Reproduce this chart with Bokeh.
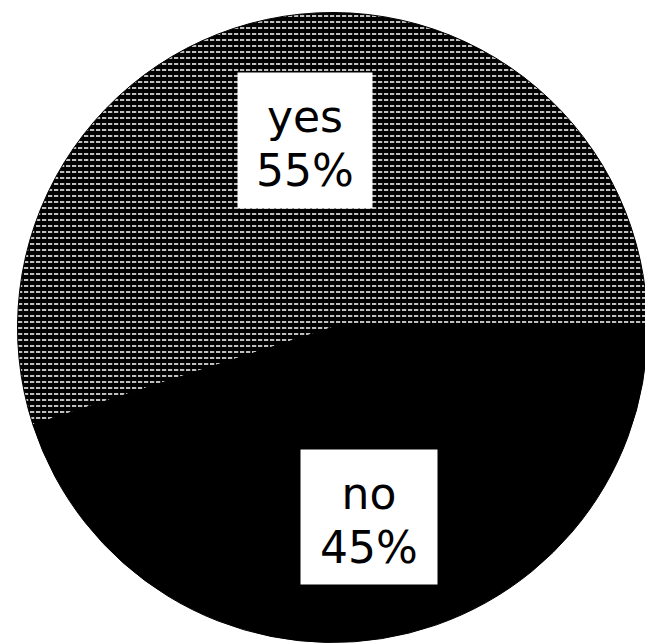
import math
from bokeh.plotting import figure
from bokeh.models import Range1d, ColumnDataSource
from bokeh.core.properties import value
from bokeh.embed import file_html
from bokeh.resources import INLINE

# data
categories = ["yes", "no"]
shares = [55, 45]

W, H = 645, 643
cx, cy, r = 332, H - 327, 315

total = sum(shares)
starts, ends = [], []
acc = 0.0
for s in shares:
    starts.append(2 * math.pi * acc / total)
    acc += s
    ends.append(2 * math.pi * acc / total)

p = figure(width=W, height=H, output_backend="svg", toolbar_location=None,
           x_range=Range1d(0, W), y_range=Range1d(0, H), min_border=0)
p.axis.visible = False
p.grid.visible = False
p.outline_line_color = None
p.background_fill_color = "white"
p.border_fill_color = "white"

src = ColumnDataSource(dict(cat=categories, start=starts, end=ends,
                            hatch=["horizontal_dash", " "]))
p.wedge(x=cx, y=cy, radius=r, start_angle="start", end_angle="end", source=src,
        fill_color="black", line_color="black", line_width=1,
        hatch_pattern="hatch", hatch_color="white", hatch_scale=6, hatch_weight=1.5)

# label boxes and text
box_x = [304.5, 368.5]
box_y = [H - 140, H - 516.5]
p.rect(x=box_x, y=box_y, width=[135, 137], height=[136, 135],
       fill_color="white", line_color=None)
names = categories
pcts = [f"{s}%" for s in shares]
p.text(x=box_x, y=[by + 24 for by in box_y], text=names,
       text_font=value("DejaVu Sans"), text_font_size="44px", text_color="black",
       text_align="center", text_baseline="middle")
p.text(x=box_x, y=[by - 30 for by in box_y], text=pcts,
       text_font=value("DejaVu Sans"), text_font_size="44px", text_color="black",
       text_align="center", text_baseline="middle")

open("out.html", "w").write(file_html(p, INLINE))
